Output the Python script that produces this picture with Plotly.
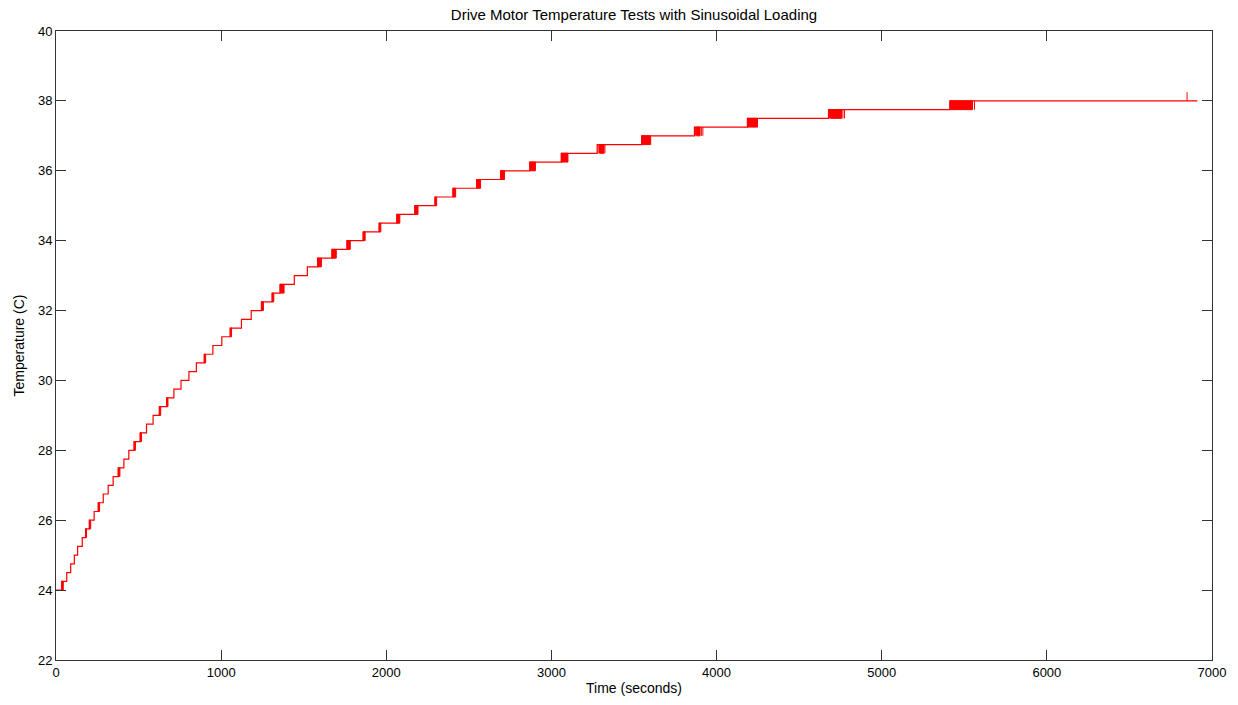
import plotly.graph_objects as go

# Logged motor temperature (deg C), quantised in 0.25 C steps
start_level = 24.0
end_time = 6912
step_levels = [
    24.25, 24.5, 24.75, 25.0, 25.25, 25.5, 25.75, 26.0, 26.25, 26.5,
    26.75, 27.0, 27.25, 27.5, 27.75, 28.0, 28.25, 28.5, 28.75, 29.0,
    29.25, 29.5, 29.75, 30.0, 30.25, 30.5, 30.75, 31.0, 31.25, 31.5,
    31.75, 32.0, 32.25, 32.5, 32.75, 33.0, 33.25, 33.5, 33.75, 34.0,
    34.25, 34.5, 34.75, 35.0, 35.25, 35.5, 35.75, 36.0, 36.25, 36.5,
    36.75, 37.0, 37.25, 37.5, 37.75, 38.0,
]
step_times = [
    34, 65, 89, 111, 131, 159, 179, 202, 231, 256,
    286, 316, 346, 377, 411, 441, 473, 510, 548, 588,
    626, 670, 714, 757, 805, 850, 898, 950, 1004, 1055,
    1123, 1182, 1244, 1309, 1357, 1443, 1522, 1584, 1671, 1762,
    1860, 1957, 2064, 2173, 2295, 2404, 2547, 2692, 2869, 3060,
    3277, 3547, 3866, 4187, 4678, 5413,
]

# Sensor chatter: reading toggling between two adjacent levels
chatter_from = [34, 179, 202, 256, 377, 473, 510, 626, 670, 898, 1055, 1244, 1309,
                1357, 1584, 1671, 1762, 1860, 1957, 2064, 2173, 2295, 2404, 2547,
                2692, 2869, 3060, 3291, 3547, 3879, 4187, 4690, 5413]
chatter_to = [44, 185, 210, 264, 387, 481, 518, 634, 678, 906, 1063, 1256, 1319,
              1381, 1607, 1697, 1782, 1872, 1967, 2082, 2192, 2305, 2420, 2571,
              2716, 2903, 3100, 3318, 3601, 3900, 4248, 4757, 5550]
chatter_low = [24.0, 25.5, 25.75, 26.25, 27.25, 28.0, 28.25, 29.0, 29.25, 30.5, 31.25,
               32.0, 32.25, 32.5, 33.25, 33.5, 33.75, 34.0, 34.25, 34.5, 34.75, 35.0,
               35.25, 35.5, 35.75, 36.0, 36.25, 36.5, 36.75, 37.0, 37.25, 37.5, 37.75]

# Isolated single-sample flickers between adjacent levels
flicker_times = [3283, 3324, 3872, 3908, 3917, 4684, 4765, 4775, 5562, 6849]
flicker_low = [36.5, 36.5, 37.0, 37.0, 37.0, 37.5, 37.5, 37.5, 37.75, 38.0]
level_step = 0.25

RED = "rgb(255,0,0)"
FONT = "Liberation Sans, Arial, Helvetica, sans-serif"

fig = go.Figure()

# Main stepped temperature trace
xs = [0] + step_times + [end_time]
ys = [start_level] + step_levels + [step_levels[-1]]
fig.add_trace(go.Scatter(x=xs, y=ys, mode="lines", line=dict(color=RED, width=1.2, shape="hv"),
                         showlegend=False, hoverinfo="skip"))

# Chatter regions rendered as solid bands
bx, by = [], []
for t0, t1, lo in zip(chatter_from, chatter_to, chatter_low):
    hi = lo + level_step
    bx += [t0, t1, t1, t0, t0, None]
    by += [lo, lo, hi, hi, lo, None]
fig.add_trace(go.Scatter(x=bx, y=by, mode="lines", fill="toself", fillcolor=RED,
                         line=dict(color=RED, width=1), showlegend=False, hoverinfo="skip"))

# Flicker spikes
fx, fy = [], []
for t, lo in zip(flicker_times, flicker_low):
    fx += [t, t, None]
    fy += [lo, lo + level_step, None]
fig.add_trace(go.Scatter(x=fx, y=fy, mode="lines", line=dict(color=RED, width=1),
                         showlegend=False, hoverinfo="skip"))

axis_common = dict(
    showgrid=False, zeroline=False, showline=True, linecolor="#333", linewidth=1,
    mirror="ticks", ticks="inside", ticklen=10, tickwidth=1, tickcolor="#333",
    tickfont=dict(family=FONT, size=13, color="black"),
)

fig.update_layout(
    width=1238, height=705,
    margin=dict(l=56, r=22, t=31, b=45),
    paper_bgcolor="white", plot_bgcolor="white",
    title=dict(text="Drive Motor Temperature Tests with Sinusoidal Loading",
               font=dict(family=FONT, size=15, color="black"),
               x=0.5, xref="paper", xanchor="center",
               y=1 - 15 / 705, yref="container", yanchor="middle"),
    xaxis=dict(range=[0, 7000], tickmode="array",
               tickvals=[0, 1000, 2000, 3000, 4000, 5000, 6000, 7000],
               title=dict(text="Time (seconds)", font=dict(family=FONT, size=14, color="black"),
                          standoff=4),
               **axis_common),
    yaxis=dict(range=[22, 40], tickmode="array",
               tickvals=[22, 24, 26, 28, 30, 32, 34, 36, 38, 40],
               title=dict(text="Temperature (C)", font=dict(family=FONT, size=14, color="black"),
                          standoff=10),
               **axis_common),
)

fig.write_html("out.html")
